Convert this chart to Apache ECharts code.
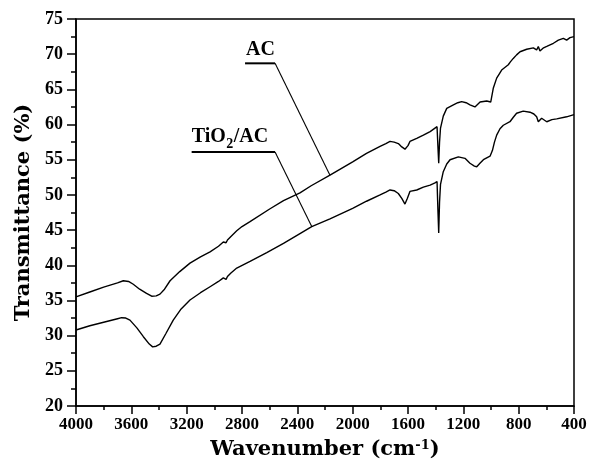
<!DOCTYPE html>
<html>
<head>
<meta charset="utf-8">
<script src="https://cdn.jsdelivr.net/npm/echarts@6/dist/echarts.min.js"></script>
<style>html,body{margin:0;padding:0;background:#fff}#c{width:590px;height:465px}</style>
</head>
<body>
<div id="c"></div>
<script>
// Wavenumber (cm-1), Transmittance (%)
const acWavenumber = [4000,3900,3800,3700,3658,3620,3586,3540,3490,3453,3420,3393,3360,3320,3250,3176,3100,3031,2970,2935,2923,2915,2905,2880,2838,2800,2742,2600,2500,2381,2300,2164,2000,1900,1802,1760,1730,1700,1670,1650,1622,1600,1586,1537,1489,1440,1405,1390,1384,1378,1372,1365,1345,1320,1272,1240,1212,1180,1152,1116,1079,1031,1002,983,959,923,875,860,839,815,790,742,694,670,658,646,620,597,549,513,477,453,429,400];
const acValues =     [35.5,36.2,36.9,37.5,37.8,37.7,37.3,36.6,36.0,35.6,35.65,35.9,36.6,37.8,39.1,40.3,41.2,41.9,42.7,43.3,43.5,43.2,43.6,44.1,44.9,45.5,46.2,48.0,49.2,50.3,51.3,52.8,54.7,55.9,56.9,57.3,57.6,57.5,57.3,56.9,56.5,57.0,57.6,58.05,58.5,59.0,59.5,59.7,57.0,54.5,57.5,59.5,61.2,62.3,62.8,63.1,63.25,63.1,62.8,62.5,63.2,63.35,63.2,65.2,66.6,67.75,68.5,68.9,69.4,69.9,70.35,70.7,70.9,70.6,71.1,70.45,70.9,71.1,71.55,72.0,72.25,72.0,72.35,72.5];
const tiWavenumber = [4000,3900,3800,3700,3670,3640,3610,3560,3513,3470,3446,3420,3393,3350,3297,3240,3176,3100,3031,2970,2935,2923,2915,2905,2880,2838,2742,2621,2500,2381,2296,2164,2000,1900,1802,1760,1730,1700,1670,1645,1622,1605,1586,1537,1489,1440,1405,1390,1384,1378,1372,1365,1345,1320,1296,1236,1188,1152,1120,1103,1080,1055,1007,990,975,959,935,911,863,840,815,767,718,690,670,658,634,597,560,525,453,400];
const tiValues =     [30.8,31.4,31.9,32.4,32.55,32.5,32.2,31.1,29.85,28.8,28.4,28.5,28.8,30.3,32.2,33.8,35.07,36.1,36.95,37.7,38.2,38.3,38.0,38.4,38.9,39.6,40.55,41.8,43.1,44.5,45.5,46.6,48.1,49.1,50.0,50.4,50.7,50.6,50.2,49.5,48.7,49.5,50.5,50.7,51.1,51.4,51.7,51.9,48.0,44.6,49.0,51.5,53.3,54.4,55.0,55.4,55.2,54.5,54.1,54.0,54.5,55.0,55.5,56.3,57.5,58.5,59.4,59.9,60.4,61.0,61.6,61.9,61.75,61.5,61.1,60.4,60.9,60.4,60.7,60.8,61.1,61.4];

const xTicks = {min: 400, max: 4000, interval: 400};
const yTicks = {min: 20, max: 75, interval: 5};

// annotation underlines and leaders (data coords)
const acUnderline = [[2778,68.7],[2561,68.7]];
const acLeader = [[2561,68.7],[2164,52.8]];
const tiUnderline = [[3164,56.1],[2561,56.1]];
const tiLeader = [[2561,56.1],[2296,45.5]];
const acLabelParts = ['AC'];
const tiLabelParts = ['TiO', '2', '/AC'];

const zip = (xs, ys) => xs.map((x, i) => [x, ys[i]]);
const serif = '"Liberation Serif", "Times New Roman", serif';
const titleFont = '"DejaVu Serif", serif';

const chart = echarts.init(document.getElementById('c'));
const lineSeries = (data, w, z) => ({type: 'line', data: data, showSymbol: false, silent: true, lineStyle: {color: '#000', width: w}, z: z});
const option = {
  animation: false,
  backgroundColor: '#fff',
  grid: {left: 76, right: 16, top: 19, bottom: 59, show: true, borderColor: '#000', borderWidth: 1.5},
  xAxis: {
    type: 'value', inverse: true, min: xTicks.min, max: xTicks.max, interval: xTicks.interval,
    name: '{a|Wavenumber (cm}{s|-1}{a|)}', nameLocation: 'middle', nameGap: 33,
    nameTextStyle: {rich: {
      a: {fontFamily: titleFont, fontWeight: 'bold', fontSize: 21, color: '#000', lineHeight: 25, verticalAlign: 'top'},
      s: {fontFamily: titleFont, fontWeight: 'bold', fontSize: 13, color: '#000', lineHeight: 14, verticalAlign: 'top'}
    }},
    axisLine: {show: true, onZero: false, lineStyle: {color: '#000', width: 1.5}},
    axisTick: {show: true, length: 8, lineStyle: {color: '#000', width: 1.5}},
    minorTick: {show: true, splitNumber: 2, length: 4, lineStyle: {color: '#000', width: 1.5}},
    axisLabel: {fontFamily: serif, fontWeight: 'bold', fontSize: 17, color: '#000', margin: 10, formatter: v => String(v)},
    splitLine: {show: false}
  },
  yAxis: {
    type: 'value', min: yTicks.min, max: yTicks.max, interval: yTicks.interval,
    name: 'Transmittance (%)', nameLocation: 'middle', nameGap: 42, nameRotate: 90,
    nameTextStyle: {fontFamily: titleFont, fontWeight: 'bold', fontSize: 21, color: '#000'},
    axisLine: {show: true, onZero: false, lineStyle: {color: '#000', width: 1.5}},
    axisTick: {show: true, length: 9, lineStyle: {color: '#000', width: 1.5}},
    minorTick: {show: true, splitNumber: 2, length: 5, lineStyle: {color: '#000', width: 1.5}},
    axisLabel: {fontFamily: serif, fontWeight: 'bold', fontSize: 18, color: '#000', margin: 13},
    splitLine: {show: false}
  },
  series: [
    Object.assign(lineSeries(zip(acWavenumber, acValues), 1.4, 3), {name: 'AC'}),
    Object.assign(lineSeries(zip(tiWavenumber, tiValues), 1.4, 3), {name: 'TiO2/AC'}),
    lineSeries(acUnderline, 2, 2),
    lineSeries(acLeader, 1.1, 2),
    lineSeries(tiUnderline, 2, 2),
    lineSeries(tiLeader, 1.1, 2)
  ]
};
chart.setOption(option);

const ctx = document.createElement('canvas').getContext('2d');
const labelFont = 'bold 20px ' + serif;
const subFont = 'bold 14px ' + serif;
function measure(t, f) { ctx.font = f; return ctx.measureText(t).width; }

const acPos = chart.convertToPixel({gridIndex: 0}, acUnderline[0]);
const tiPos = chart.convertToPixel({gridIndex: 0}, tiUnderline[0]);
const w0 = measure(tiLabelParts[0], labelFont);
const w1 = measure(tiLabelParts[1], subFont);
chart.setOption({
  graphic: [
    {type: 'text', x: acPos[0] + 1, y: acPos[1] - 4, style: {text: acLabelParts[0], font: labelFont, fill: '#000', textVerticalAlign: 'bottom'}},
    {type: 'text', x: tiPos[0], y: tiPos[1] - 5, style: {text: tiLabelParts[0], font: labelFont, fill: '#000', textVerticalAlign: 'bottom'}},
    {type: 'text', x: tiPos[0] + w0 + 0.5, y: tiPos[1] - 1, style: {text: tiLabelParts[1], font: subFont, fill: '#000', textVerticalAlign: 'bottom'}},
    {type: 'text', x: tiPos[0] + w0 + w1 + 1, y: tiPos[1] - 5, style: {text: tiLabelParts[2], font: labelFont, fill: '#000', textVerticalAlign: 'bottom'}}
  ]
});
</script>
</body>
</html>
